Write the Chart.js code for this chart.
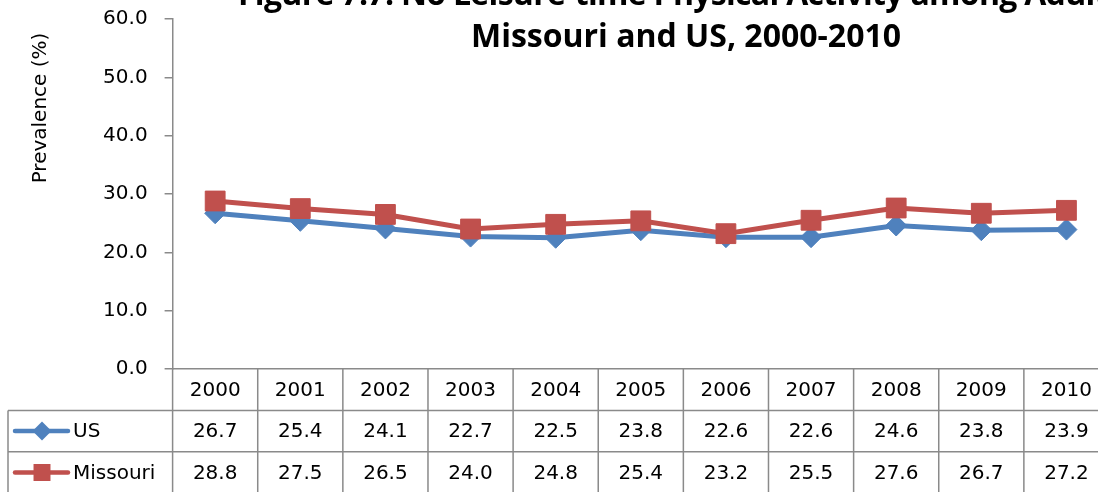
<!DOCTYPE html>
<html>
<head>
<meta charset="utf-8">
<script src="https://cdn.jsdelivr.net/npm/chart.js@4.4.0/dist/chart.umd.min.js"></script>
<style>
  html, body { margin: 0; padding: 0; background: #fff; overflow: hidden; }
  #frame { position: relative; width: 1098px; height: 492px; overflow: hidden; }
  #c { position: absolute; left: 0; top: -40px; }
</style>
</head>
<body>
<div id="frame"><canvas id="c" width="1124" height="532"></canvas></div>
<script>
// ---- data ----
const years = ['2000', '2001', '2002', '2003', '2004', '2005', '2006', '2007', '2008', '2009', '2010'];
const usValues = [26.7, 25.4, 24.1, 22.7, 22.5, 23.8, 22.6, 22.6, 24.6, 23.8, 23.9];
const missouriValues = [28.8, 27.5, 26.5, 24.0, 24.8, 25.4, 23.2, 25.5, 27.6, 26.7, 27.2];
const yMin = 0, yMax = 60, yStep = 10;
const titleLines = ['Figure 7.7: No Leisure-time Physical Activity among Adults in', 'Missouri and US, 2000-2010'];
const yAxisTitle = 'Prevalence (%)';

// ---- styling ----
const US_BLUE = '#4F81BD';
const MO_RED = '#C0504D';
const AXIS_GRAY = '#8a8a8a';
const BODY_FONT = 'DejaVu Sans';
const TITLE_FONT = 'Open Sans';
const ROW_H = 41.4;
const TABLE_LEFT = 8;

Chart.defaults.font.family = BODY_FONT;

// Title and rotated axis caption
const captionPlugin = {
  id: 'captions',
  afterDraw(chart) {
    const ctx = chart.ctx;
    ctx.save();
    ctx.fillStyle = '#000';
    ctx.font = `bold 32px "${TITLE_FONT}"`;
    ctx.textBaseline = 'alphabetic';
    ctx.textAlign = 'left';
    ctx.letterSpacing = '-0.7px';
    ctx.fillText(titleLines[0], 238, 45);
    ctx.letterSpacing = '0px';
    ctx.textAlign = 'center';
    ctx.fillText(titleLines[1], 686, 87);

    ctx.font = `20px "${BODY_FONT}"`;
    ctx.translate(41, 148);
    ctx.rotate(-Math.PI / 2);
    ctx.textAlign = 'center';
    ctx.textBaseline = 'middle';
    ctx.fillText(yAxisTitle, 0, 0);
    ctx.restore();
  }
};

// Data table under the category axis, with series keys
const dataTablePlugin = {
  id: 'dataTable',
  afterDraw(chart) {
    const { ctx, chartArea } = chart;
    const x = chart.scales.x;
    const half = (x.getPixelForValue(1) - x.getPixelForValue(0)) / 2;
    const top = chartArea.bottom;
    const bottom = top + ROW_H * 3;
    const right = chartArea.right;

    ctx.save();
    ctx.strokeStyle = AXIS_GRAY;
    ctx.lineWidth = 1.5;
    ctx.beginPath();
    for (let i = 0; i <= years.length; i++) {
      const px = x.getPixelForValue(0) - half + i * half * 2;
      ctx.moveTo(px, top);
      ctx.lineTo(px, bottom);
    }
    for (let r = 1; r <= 3; r++) {
      ctx.moveTo(TABLE_LEFT, top + ROW_H * r);
      ctx.lineTo(right, top + ROW_H * r);
    }
    ctx.moveTo(TABLE_LEFT, top + ROW_H);
    ctx.lineTo(TABLE_LEFT, bottom);
    ctx.stroke();

    ctx.fillStyle = '#000';
    ctx.font = `20px "${BODY_FONT}"`;
    ctx.textAlign = 'center';
    ctx.textBaseline = 'middle';
    const rows = [years, usValues.map(v => v.toFixed(1)), missouriValues.map(v => v.toFixed(1))];
    rows.forEach((row, r) => {
      const cy = top + ROW_H * r + ROW_H / 2 + 1;
      row.forEach((txt, i) => ctx.fillText(txt, x.getPixelForValue(i), cy));
    });

    // series keys
    const keys = [
      { label: 'US', color: US_BLUE, style: 'rectRot', radius: 9.5 },
      { label: 'Missouri', color: MO_RED, style: 'rect', radius: 12 }
    ];
    keys.forEach((k, j) => {
      const cy = top + ROW_H * (j + 1) + ROW_H / 2;
      ctx.strokeStyle = k.color;
      ctx.lineWidth = 4.5;
      ctx.lineCap = 'round';
      ctx.beginPath();
      ctx.moveTo(15, cy);
      ctx.lineTo(68, cy);
      ctx.stroke();
      ctx.fillStyle = k.color;
      Chart.helpers.drawPoint(ctx, { pointStyle: k.style, radius: k.radius, borderWidth: 0 }, 42, cy);
      ctx.fillStyle = '#000';
      ctx.textAlign = 'left';
      ctx.fillText(k.label, 73, cy + 1);
    });
    ctx.restore();
  }
};

new Chart(document.getElementById('c'), {
  type: 'line',
  data: {
    labels: years,
    datasets: [
      {
        label: 'US',
        data: usValues,
        borderColor: US_BLUE,
        backgroundColor: US_BLUE,
        borderWidth: 5,
        pointStyle: 'rectRot',
        pointRadius: 10.5,
        pointBorderWidth: 1,
        pointBorderColor: US_BLUE,
        pointBackgroundColor: US_BLUE,
        tension: 0,
        order: 1
      },
      {
        label: 'Missouri',
        data: missouriValues,
        borderColor: MO_RED,
        backgroundColor: MO_RED,
        borderWidth: 5,
        pointStyle: 'rect',
        pointRadius: 14,
        pointBorderWidth: 1,
        pointBorderColor: MO_RED,
        pointBackgroundColor: MO_RED,
        tension: 0,
        order: 0
      }
    ]
  },
  options: {
    responsive: false,
    animation: false,
    events: [],
    layout: { padding: { left: 0, right: 14.6, top: 59, bottom: 0 } },
    plugins: {
      legend: { display: false },
      tooltip: { enabled: false },
      title: { display: false }
    },
    scales: {
      x: {
        type: 'category',
        offset: true,
        grid: { display: false },
        ticks: { display: false },
        border: { display: true, color: AXIS_GRAY, width: 1.5 },
        afterFit(scale) { scale.height = ROW_H * 3 - 1.2; }
      },
      y: {
        min: yMin,
        max: yMax,
        grid: { drawOnChartArea: false, drawTicks: true, tickLength: 8, color: AXIS_GRAY, lineWidth: 1.5 },
        border: { display: true, color: AXIS_GRAY, width: 1.5 },
        ticks: {
          stepSize: yStep,
          color: '#000',
          font: { size: 20, family: BODY_FONT },
          padding: 17,
          callback: v => Number(v).toFixed(1)
        },
        afterFit(scale) { scale.width = 172.6; }
      }
    }
  },
  plugins: [captionPlugin, dataTablePlugin]
});
</script>
</body>
</html>
